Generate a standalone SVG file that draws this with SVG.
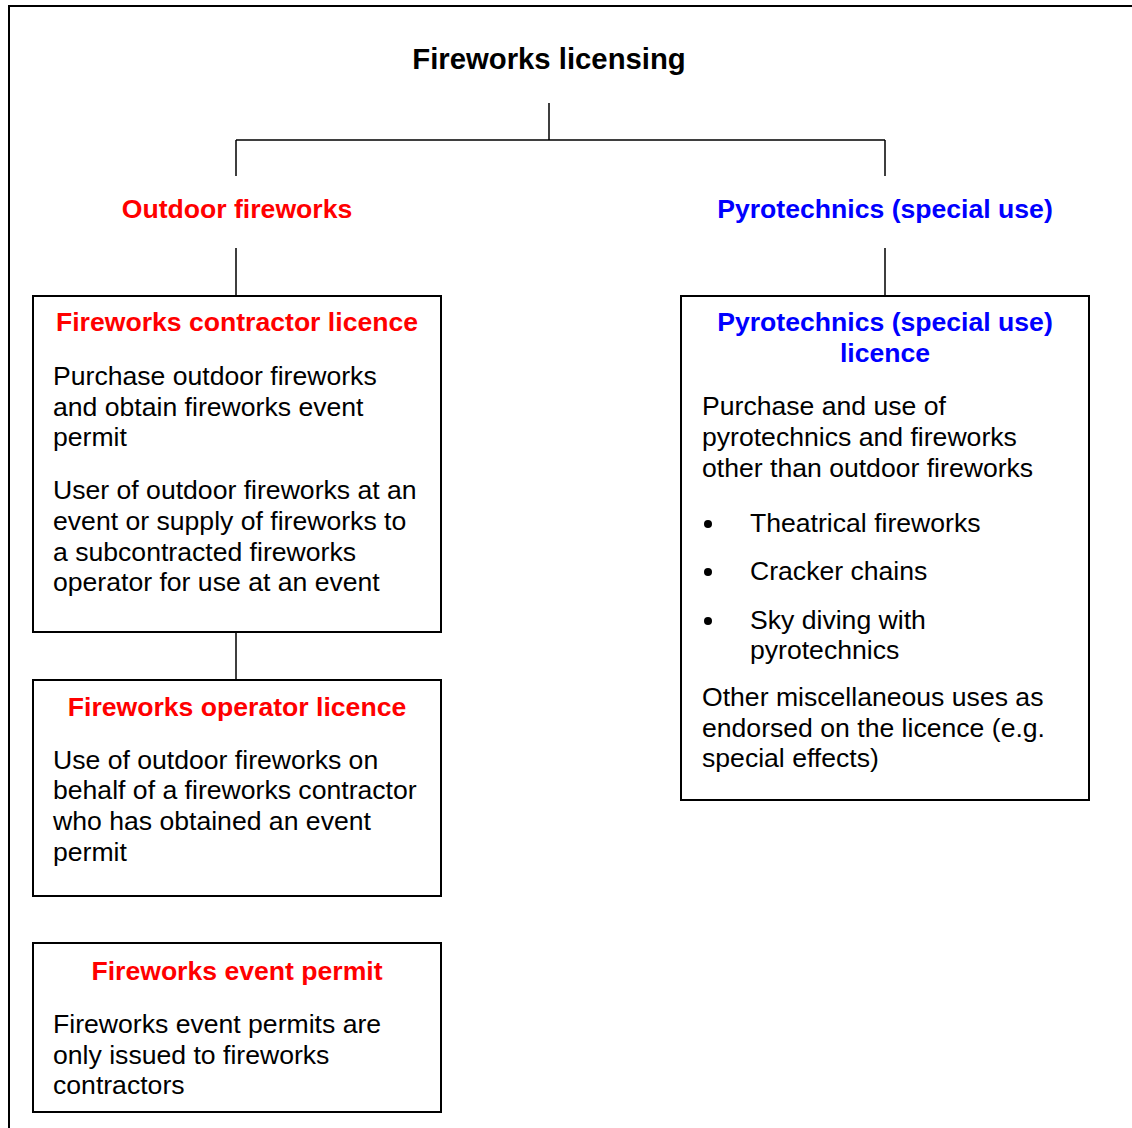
<svg xmlns="http://www.w3.org/2000/svg" width="1132" height="1128" viewBox="0 0 1132 1128">
<style>
text{font-family:"Liberation Sans",Arial,sans-serif;font-size:26.6px;fill:#000}
.t{font-weight:bold;font-size:29.3px}
.h{font-weight:bold;text-anchor:middle}
.r{fill:#ff0000}
.b{fill:#0000ff}
.box{fill:#fff;stroke:#000;stroke-width:2}
.c{stroke:#000;stroke-width:1.5;fill:none}
</style>
<rect x="0" y="0" width="1132" height="1128" fill="#fff"/>
<rect x="9" y="6" width="1140" height="1140" fill="none" stroke="#000" stroke-width="2"/>
<g id="connectors">
<path class="c" d="M549 103V140M236 140H885M236 140V176M885 140V176M236 248V296M885 248V296M236 632V680"/>
</g>
<g id="title"><text class="t" x="549" y="69" text-anchor="middle">Fireworks licensing</text></g>
<g id="outdoor"><text class="h r" x="237" y="218">Outdoor fireworks</text></g>
<g id="pyro"><text class="h b" x="885" y="218">Pyrotechnics (special use)</text></g>
<g id="contractor">
<rect class="box" x="33" y="296" width="408" height="336"/>
<text class="h r" x="237" y="331">Fireworks contractor licence</text>
<text x="53" y="385">Purchase outdoor fireworks</text>
<text x="53" y="416">and obtain fireworks event</text>
<text x="53" y="446">permit</text>
<text x="53" y="499">User of outdoor fireworks at an</text>
<text x="53" y="530">event or supply of fireworks to</text>
<text x="53" y="561">a subcontracted fireworks</text>
<text x="53" y="591">operator for use at an event</text>
</g>
<g id="operator">
<rect class="box" x="33" y="680" width="408" height="216"/>
<text class="h r" x="237" y="716">Fireworks operator licence</text>
<text x="53" y="769">Use of outdoor fireworks on</text>
<text x="53" y="799">behalf of a fireworks contractor</text>
<text x="53" y="830">who has obtained an event</text>
<text x="53" y="861">permit</text>
</g>
<g id="permit">
<rect class="box" x="33" y="943" width="408" height="169"/>
<text class="h r" x="237" y="980">Fireworks event permit</text>
<text x="53" y="1033">Fireworks event permits are</text>
<text x="53" y="1064">only issued to fireworks</text>
<text x="53" y="1094">contractors</text>
</g>
<g id="pyrolicence">
<rect class="box" x="681" y="296" width="408" height="504"/>
<text class="h b" x="885" y="331">Pyrotechnics (special use)</text>
<text class="h b" x="885" y="362">licence</text>
<text x="702" y="415">Purchase and use of</text>
<text x="702" y="446">pyrotechnics and fireworks</text>
<text x="702" y="477">other than outdoor fireworks</text>
<circle cx="708" cy="524" r="4"/>
<text x="750" y="532">Theatrical fireworks</text>
<circle cx="708" cy="572" r="4"/>
<text x="750" y="580">Cracker chains</text>
<circle cx="708" cy="621" r="4"/>
<text x="750" y="629">Sky diving with</text>
<text x="750" y="659">pyrotechnics</text>
<text x="702" y="706">Other miscellaneous uses as</text>
<text x="702" y="737">endorsed on the licence (e.g.</text>
<text x="702" y="767">special effects)</text>
</g>
</svg>
